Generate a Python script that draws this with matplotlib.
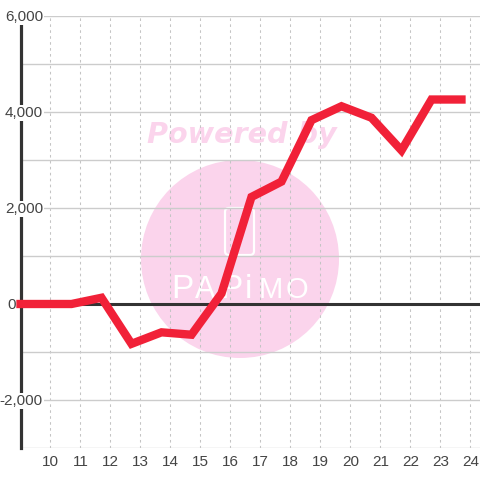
import matplotlib
matplotlib.use("Agg")
import matplotlib.pyplot as plt
from matplotlib.patches import Circle, FancyBboxPatch
from matplotlib.transforms import blended_transform_factory

plt.rcParams['font.family'] = ['Liberation Sans', 'DejaVu Sans']

x_vals = [9.0, 9.7, 10.7, 11.7, 12.7, 13.7, 14.7, 15.7, 16.7, 17.7, 18.7, 19.7, 20.7, 21.7, 22.7, 23.7]
y_vals = [0, 0, 0, 130, -830, -590, -640, 220, 2230, 2550, 3830, 4120, 3880, 3200, 4260, 4260]
x_ticks = list(range(10, 25))
y_grid = [-3000, -2000, -1000, 0, 1000, 2000, 3000, 4000, 5000, 6000]
y_labels = {-2000: "-2,000", 0: "0", 2000: "2,000", 4000: "4,000", 6000: "6,000"}

W = H = 480
fig = plt.figure(figsize=(4.8, 4.8), dpi=100, facecolor='white')
ax = fig.add_axes([20.5 / W, 32 / H, 459.5 / W, 432 / H])
ax.patch.set_alpha(0)
ax.set_zorder(1)
ax.set_xlim(9, 24.317)
ax.set_ylim(-3000, 6000)

PINK = '#fbd4ec'
def fx(p): return p / W
def fy(p): return 1 - p / H

fig.add_artist(Circle((fx(240), fy(259)), 99 / W, transform=fig.transFigure,
                      facecolor=PINK, edgecolor='none', zorder=-2))
fig.add_artist(FancyBboxPatch((fx(225), fy(255)), 29 / W, 47 / H,
                              boxstyle=f"round,pad=0,rounding_size={4 / W}",
                              transform=fig.transFigure, facecolor='none',
                              edgecolor='white', linewidth=1.6, zorder=-1))
fig.text(fx(242), fy(135), "Powered by", color=PINK, fontsize=20.6, fontweight='bold',
         fontstyle='italic', family=['DejaVu Sans'], ha='center', va='center', zorder=-1)
for letter, cx, fs in zip("PAPiMO", [182, 205, 231, 248, 271, 297], [24, 22, 24, 24, 21, 21]):
    fig.text(fx(cx), fy(290), letter, color='white', fontsize=fs, family=['Liberation Sans'],
             ha='center', va='center', zorder=-1)

ax.set_xticks(x_ticks)
ax.set_yticks(y_grid)
ax.set_yticklabels([])
ax.tick_params(axis='both', length=0)
ax.tick_params(axis='x', labelsize=11, labelcolor='#444444', pad=5)
ax.set_axisbelow(True)
ax.grid(axis='y', color='#cccccc', linewidth=1.0)
ax.grid(axis='x', color='#c4c4c4', linewidth=0.75, linestyle=(0, (2.5, 3.2)))

for s in ['top', 'right', 'bottom']:
    ax.spines[s].set_visible(False)
ax.spines['left'].set_color('#333333')
ax.spines['left'].set_linewidth(2.3)

ax.axhline(0, color='#333333', linewidth=2.2, zorder=2.6)
ax.plot(x_vals, y_vals, color='#f12138', linewidth=6.0, solid_joinstyle='miter',
        solid_capstyle='projecting', clip_on=False, zorder=3)

tr = blended_transform_factory(ax.transAxes, ax.transData)
for v, lab in y_labels.items():
    right = 16 if v == 0 else 43
    bbox = None if v == 0 else dict(facecolor='white', edgecolor='none', pad=0.6)
    ax.annotate(lab, xy=((right - 20.5) / 459.5, v), xycoords=tr, xytext=(0, -0.7),
                textcoords='offset points', ha='right', va='center',
                fontsize=11, color='#444444', bbox=bbox, annotation_clip=False, zorder=2.55)

fig.savefig('out.png', dpi=100, facecolor='white')
